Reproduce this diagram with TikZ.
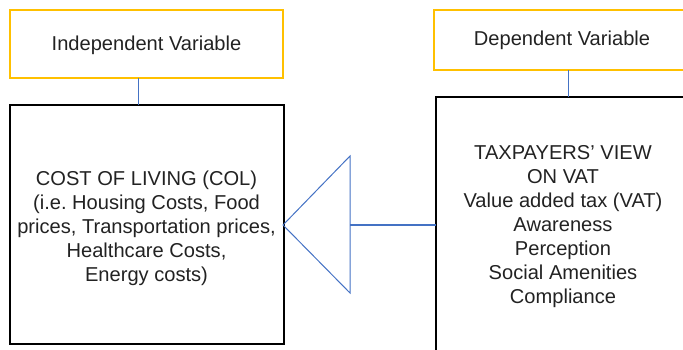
\documentclass[tikz,border=0pt]{standalone}
\usepackage{fontspec}
\setmainfont{Liberation Sans}
\frenchspacing
\definecolor{boxyellow}{HTML}{FFC000}
\definecolor{linkblue}{HTML}{4472C4}
\definecolor{textgray}{HTML}{222222}
\begin{document}
\begin{tikzpicture}[x=1pt,y=-1pt,
  varbox/.style={draw=boxyellow,line width=1.3pt},
  mainbox/.style={draw=black,line width=1.3pt},
  link/.style={draw=linkblue,line width=1pt},
  txt/.style={align=center,text=textgray,font=\fontsize{20.1}{24}\selectfont,inner sep=0pt}]
\useasboundingbox (0,0) rectangle (683,349);
\clip (0,0) rectangle (683,349);
% boxes
\draw[varbox] (10,10) rectangle (283,78);
\coordinate (indS) at (138,78);
\node[txt] (ind) at (146.5,45) {Independent Variable};
\draw[varbox] (434,10) rectangle (700,70);
\coordinate (depS) at (568,70);
\node[txt] (dep) at (562,40) {Dependent Variable};
\draw[mainbox] (10,105) rectangle (284,344);
\coordinate (colN) at (138,105);
\coordinate (colE) at (283,225);
\draw[mainbox] (436,97) rectangle (700,360);
\coordinate (taxN) at (568,97);
\coordinate (taxW) at (436,225);
% texts
\node[txt] (col) at (146.5,228) {COST OF LIVING (COL)\\(i.e.\ Housing Costs, Food\\prices, Transportation prices,\\Healthcare Costs,\\Energy costs)};
\node[txt] (tax) at (563,227) {TAXPAYERS’ VIEW\\ON VAT\\Value added tax (VAT)\\Awareness\\Perception\\Social Amenities\\Compliance};
% connectors
\draw[link] (indS) -- (colN);
\draw[link] (depS) -- (taxN);
\coordinate (triT) at (350,156);
\coordinate (triB) at (350,293);
\coordinate (triM) at (350,225);
\draw[link,line join=miter] (colE) -- (triT) -- (triB) -- cycle;
\draw[link,line width=1.6pt] (triM) -- (taxW);
\end{tikzpicture}
\end{document}
